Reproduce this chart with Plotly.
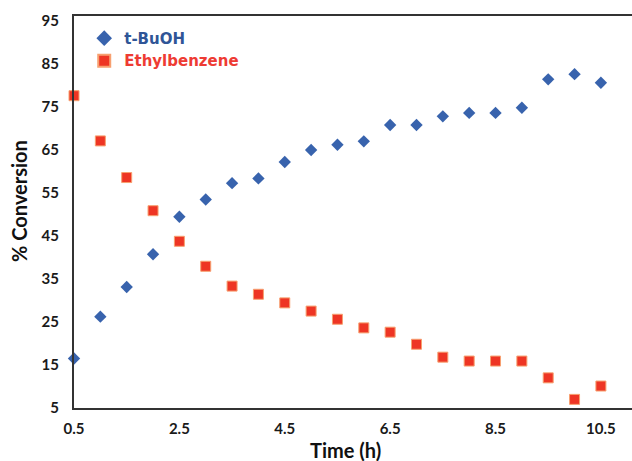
import plotly.graph_objects as go

time_h = [0.5, 1.0, 1.5, 2.0, 2.5, 3.0, 3.5, 4.0, 4.5, 5.0, 5.5,
          6.0, 6.5, 7.0, 7.5, 8.0, 8.5, 9.0, 9.5, 10.0, 10.5]
tbuoh = [16.5, 26.2, 33.1, 40.7, 49.4, 53.4, 57.2, 58.3, 62.1, 64.9, 66.1,
         66.9, 70.7, 70.7, 72.7, 73.5, 73.5, 74.7, 81.3, 82.5, 80.5]
ethylbenzene = [77.5, 67.0, 58.5, 50.8, 43.7, 37.9, 33.3, 31.4, 29.4, 27.5, 25.6,
                23.6, 22.6, 19.8, 16.8, 15.9, 15.9, 15.9, 12.0, 7.0, 10.1]
x_ticks = [0.5, 2.5, 4.5, 6.5, 8.5, 10.5]
y_ticks = [5, 15, 25, 35, 45, 55, 65, 75, 85, 95]

blue = "#3863AD"
red = "#EE3524"
font = "Lato, 'Open Sans', sans-serif"

fig = go.Figure()
fig.add_trace(go.Scatter(
    x=time_h, y=tbuoh, mode="markers",
    name="<span style='color:#2F5597'>t-BuOH</span>",
    marker=dict(symbol="diamond", size=9.5, color=blue, line=dict(width=0)),
    cliponaxis=False,
))
fig.add_trace(go.Scatter(
    x=time_h, y=ethylbenzene, mode="markers",
    name="<span style='color:#EE3B33'>Ethylbenzene</span>",
    marker=dict(symbol="square", size=10, color=red, line=dict(width=1, color="#F7A070")),
    cliponaxis=False,
))

# the plot runs a little past the right edge of the page, as in the cropped original
fig.update_layout(
    width=642, height=461,
    margin=dict(l=74, r=0, t=16, b=53),
    paper_bgcolor="white",
    plot_bgcolor="white",
    font=dict(family=font, size=15, color="#1a1a1a", weight="bold"),
    showlegend=True,
    legend=dict(
        x=0.018, y=0.985, xanchor="left", yanchor="top",
        bgcolor="rgba(0,0,0,0)",
        font=dict(family="'DejaVu Sans', Verdana, sans-serif", size=15, weight="bold"),
        itemsizing="constant", tracegroupgap=0,
    ),
    xaxis=dict(
        range=[0.5, 11.28], tickvals=x_ticks, showgrid=False, zeroline=False,
        showline=True, linecolor="#333333", linewidth=2, mirror=True,
        ticks="", ticklabelstandoff=6,
    ),
    yaxis=dict(
        range=[5, 96], tickvals=y_ticks, showgrid=False, zeroline=False,
        showline=True, linecolor="#333333", linewidth=2,
        ticks="", ticklabelstandoff=10,
    ),
    annotations=[
        dict(text="Time (h)", xref="paper", yref="paper", x=0.478, y=-0.106,
             xanchor="center", yanchor="middle", showarrow=False,
             font=dict(size=20, weight="bold", color="#111111")),
        dict(text="% Conversion", xref="paper", yref="paper", x=-0.097, y=0.528,
             xanchor="center", yanchor="middle", showarrow=False, textangle=-90,
             font=dict(size=20, weight="bold", color="#111111")),
    ],
)

# drop the browser's default 8px body margin and hide the overflow
fig.write_html("out.html", config={"displayModeBar": False},
               post_script="document.body.style.margin='0';document.body.style.overflow='hidden';")
